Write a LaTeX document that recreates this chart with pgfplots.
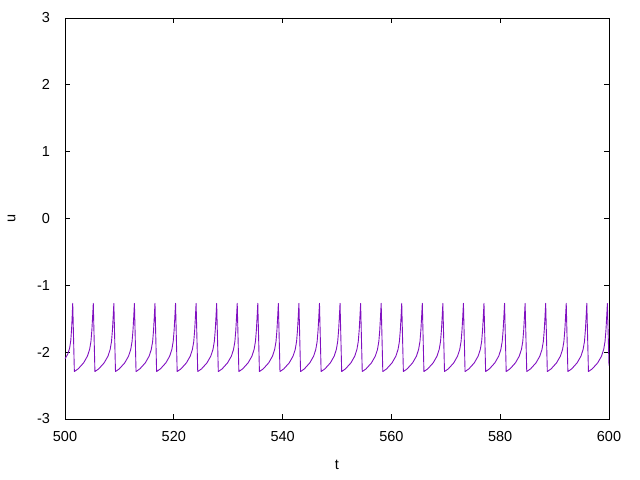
\documentclass[border=0pt]{standalone}
\usepackage{pgfplots}
\pgfplotsset{compat=1.18}
\usepackage{fontspec}
\setmainfont{Liberation Sans}
\definecolor{gpviolet}{RGB}{128,16,192}
\begin{document}
\fontsize{14.5bp}{17bp}\selectfont
\begin{tikzpicture}
\path[use as bounding box] (-65bp,-61bp) rectangle (575bp,419bp);
\begin{axis}[
  at={(0,0)}, anchor=south west,
  scale only axis, width=544bp, height=401bp,
  xmin=500, xmax=600, ymin=-3, ymax=3,
  xtick={500,520,540,560,580,600},
  xticklabels={500,520,540,560,580,600},
  ytick={-3,-2,-1,0,1,2,3},
  yticklabels={-3,-2,-1,0,1,2,3},
  tick align=inside,
  major tick length=5bp,
  minor tick num=0,
  axis line style={black, line width=0.8bp},
  every tick/.style={black, line width=0.8bp},
  xticklabel style={yshift=-7.5bp},
  yticklabel style={xshift=-10bp},
  xlabel={t}, ylabel={u},
  xlabel style={at={(axis description cs:0.5,-0.1135)}, anchor=center},
  ylabel style={at={(axis description cs:-0.098,0.5)}, anchor=center},
  clip=true,
]
\addplot[gpviolet, line width=0.9bp, line join=round] table {
x y
500.00 -2.10
500.50 -2.03
500.85 -1.94
501.07 -1.82
501.22 -1.64
501.32 -1.47
501.42 -1.27
501.72 -2.29
502.42 -2.25
503.42 -2.16
504.12 -2.06
504.52 -1.96
504.77 -1.84
504.94 -1.67
505.07 -1.48
505.20 -1.27
505.50 -2.29
506.20 -2.25
507.20 -2.16
507.90 -2.06
508.30 -1.96
508.55 -1.84
508.72 -1.67
508.85 -1.48
508.98 -1.27
509.28 -2.29
509.98 -2.25
510.98 -2.16
511.68 -2.06
512.08 -1.96
512.33 -1.84
512.50 -1.67
512.63 -1.48
512.76 -1.27
513.06 -2.29
513.76 -2.25
514.76 -2.16
515.46 -2.06
515.86 -1.96
516.11 -1.84
516.28 -1.67
516.41 -1.48
516.54 -1.27
516.84 -2.29
517.54 -2.25
518.54 -2.16
519.24 -2.06
519.64 -1.96
519.89 -1.84
520.06 -1.67
520.19 -1.48
520.32 -1.27
520.62 -2.29
521.32 -2.25
522.32 -2.16
523.02 -2.06
523.42 -1.96
523.67 -1.84
523.84 -1.67
523.97 -1.48
524.10 -1.27
524.40 -2.29
525.10 -2.25
526.10 -2.16
526.80 -2.06
527.20 -1.96
527.45 -1.84
527.62 -1.67
527.75 -1.48
527.88 -1.27
528.18 -2.29
528.88 -2.25
529.88 -2.16
530.58 -2.06
530.98 -1.96
531.23 -1.84
531.40 -1.67
531.53 -1.48
531.66 -1.27
531.96 -2.29
532.66 -2.25
533.66 -2.16
534.36 -2.06
534.76 -1.96
535.01 -1.84
535.18 -1.67
535.31 -1.48
535.44 -1.27
535.74 -2.29
536.44 -2.25
537.44 -2.16
538.14 -2.06
538.54 -1.96
538.79 -1.84
538.96 -1.67
539.09 -1.48
539.22 -1.27
539.52 -2.29
540.22 -2.25
541.22 -2.16
541.92 -2.06
542.32 -1.96
542.57 -1.84
542.74 -1.67
542.87 -1.48
543.00 -1.27
543.30 -2.29
544.00 -2.25
545.00 -2.16
545.70 -2.06
546.10 -1.96
546.35 -1.84
546.52 -1.67
546.65 -1.48
546.78 -1.27
547.08 -2.29
547.78 -2.25
548.78 -2.16
549.48 -2.06
549.88 -1.96
550.13 -1.84
550.30 -1.67
550.43 -1.48
550.56 -1.27
550.86 -2.29
551.56 -2.25
552.56 -2.16
553.26 -2.06
553.66 -1.96
553.91 -1.84
554.08 -1.67
554.21 -1.48
554.34 -1.27
554.64 -2.29
555.34 -2.25
556.34 -2.16
557.04 -2.06
557.44 -1.96
557.69 -1.84
557.86 -1.67
557.99 -1.48
558.12 -1.27
558.42 -2.29
559.12 -2.25
560.12 -2.16
560.82 -2.06
561.22 -1.96
561.47 -1.84
561.64 -1.67
561.77 -1.48
561.90 -1.27
562.20 -2.29
562.90 -2.25
563.90 -2.16
564.60 -2.06
565.00 -1.96
565.25 -1.84
565.42 -1.67
565.55 -1.48
565.68 -1.27
565.98 -2.29
566.68 -2.25
567.68 -2.16
568.38 -2.06
568.78 -1.96
569.03 -1.84
569.20 -1.67
569.33 -1.48
569.46 -1.27
569.76 -2.29
570.46 -2.25
571.46 -2.16
572.16 -2.06
572.56 -1.96
572.81 -1.84
572.98 -1.67
573.11 -1.48
573.24 -1.27
573.54 -2.29
574.24 -2.25
575.24 -2.16
575.94 -2.06
576.34 -1.96
576.59 -1.84
576.76 -1.67
576.89 -1.48
577.02 -1.27
577.32 -2.29
578.02 -2.25
579.02 -2.16
579.72 -2.06
580.12 -1.96
580.37 -1.84
580.54 -1.67
580.67 -1.48
580.80 -1.27
581.10 -2.29
581.80 -2.25
582.80 -2.16
583.50 -2.06
583.90 -1.96
584.15 -1.84
584.32 -1.67
584.45 -1.48
584.58 -1.27
584.88 -2.29
585.58 -2.25
586.58 -2.16
587.28 -2.06
587.68 -1.96
587.93 -1.84
588.10 -1.67
588.23 -1.48
588.36 -1.27
588.66 -2.29
589.36 -2.25
590.36 -2.16
591.06 -2.06
591.46 -1.96
591.71 -1.84
591.88 -1.67
592.01 -1.48
592.14 -1.27
592.44 -2.29
593.14 -2.25
594.14 -2.16
594.84 -2.06
595.24 -1.96
595.49 -1.84
595.66 -1.67
595.79 -1.48
595.92 -1.27
596.22 -2.29
596.92 -2.25
597.92 -2.16
598.62 -2.06
599.02 -1.96
599.27 -1.84
599.44 -1.67
599.57 -1.48
599.70 -1.27
600.00 -2.20
};
\end{axis}
\end{tikzpicture}
\end{document}
